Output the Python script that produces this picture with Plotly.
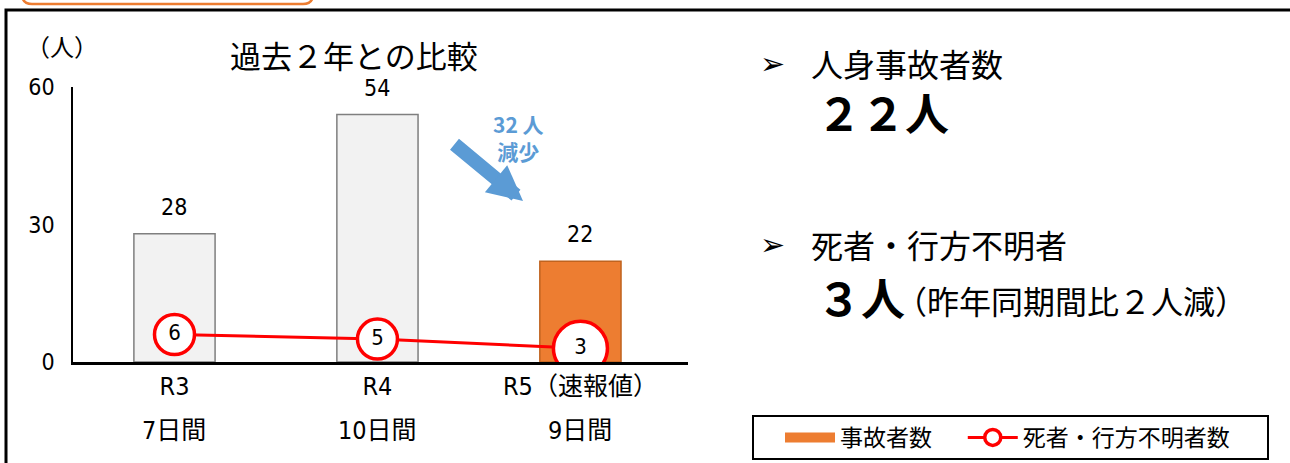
import plotly.graph_objects as go

# ---- data ----
categories = ["R3", "R4", "R5（速報値）"]
periods = ["7日間", "10日間", "9日間"]
injured = [28, 54, 22]
deaths = [6, 5, 3]
y_ticks = [0, 30, 60]

# ---- helpers / styles ----
W, H = 1290, 463


def px(x):
    return x / W


def py(y):
    return 1 - y / H


NUM_FONT = "Liberation Sans Narrow, Arial Narrow, DejaVu Sans Condensed, Noto Sans CJK JP, sans-serif"
JP_FONT = "Noto Sans CJK JP, sans-serif"

bar_fill = ["#f2f2f2", "#f2f2f2", "#ed7d31"]
bar_edge = ["#7f7f7f", "#7f7f7f", "#c0631f"]
marker_sizes = [40, 40, 54]

fig = go.Figure()
fig.add_trace(go.Bar(
    x=categories, y=injured, width=0.4,
    marker=dict(color=bar_fill, line=dict(color=bar_edge, width=1.5)),
    showlegend=False, hoverinfo="skip",
))
fig.add_trace(go.Scatter(
    x=[None], y=[None], mode="lines",
    line=dict(color="#ed7d31", width=10), name="事故者数" + "\u00a0" * 5,
))
fig.add_trace(go.Scatter(
    x=categories, y=deaths, mode="lines+markers+text",
    text=[str(v) for v in deaths], textposition="middle center",
    textfont=dict(family=NUM_FONT, size=22, color="black"),
    line=dict(color="#ff0000", width=3),
    marker=dict(size=marker_sizes, color="white", opacity=1,
                line=dict(color="#ff0000", width=3.5)),
    name="死者・行方不明者数",
))

annotations = []
# bar value labels
for c, v in zip(categories, injured):
    annotations.append(dict(x=c, y=v, xref="x", yref="y", text=str(v), showarrow=False,
                            xanchor="center", yanchor="middle", yshift=27,
                            font=dict(family=NUM_FONT, size=23, color="black")))
# second line of category labels
for c, p in zip(categories, periods):
    annotations.append(dict(x=c, y=py(430), xref="x", yref="paper", text=p, showarrow=False,
                            xanchor="center", yanchor="middle",
                            font=dict(family=NUM_FONT, size=25, color="black")))


def txt(x, y, s, size, xanchor="center", family=JP_FONT, color="black"):
    return dict(x=px(x), y=py(y), xref="paper", yref="paper", text=s, showarrow=False,
                xanchor=xanchor, yanchor="middle", font=dict(family=family, size=size, color=color))


annotations += [
    txt(354, 54, "過去２年との比較", 31),
    txt(62, 45, "（人）", 24),
    txt(518, 137, "<b>32 人<br>減少</b>", 21, color="#5b9bd5"),
    dict(x=px(523), y=py(201), xref="paper", yref="paper", text="", showarrow=True,
         ax=-70, ay=-58, arrowcolor="#5b9bd5", arrowwidth=14, arrowhead=2, arrowsize=0.5, standoff=0),
    # right side text
    txt(772, 63, "➢", 30, family="DejaVu Sans"),
    txt(809, 63, "人身事故者数", 32, xanchor="left"),
    txt(815, 112, "<b>２２人</b>", 44, xanchor="left"),
    txt(772, 244, "➢", 30, family="DejaVu Sans"),
    txt(809, 244, "死者・行方不明者", 32, xanchor="left"),
    txt(815, 297, "<b>３人</b>", 44, xanchor="left"),
    txt(893, 300, "（昨年同期間比２人減）", 32, xanchor="left"),
]


def ppath(pts):
    s = ""
    for cmd, coords in pts:
        s += cmd + " ".join(f"{px(coords[i]):.5f},{py(coords[i+1]):.5f}" for i in range(0, len(coords), 2)) + " "
    return s.strip()


orange_tab = ppath([("M", (22, -30)), ("L", (22, -6)), ("Q", (22, 4, 32, 4)), ("L", (303, 4)),
                    ("Q", (313, 4, 313, -6)), ("L", (313, -30))])

shapes = [
    dict(type="rect", xref="paper", yref="paper", x0=px(6), y0=py(10), x1=px(1300), y1=py(480),
         line=dict(color="black", width=3)),
    dict(type="path", xref="paper", yref="paper", path=orange_tab, line=dict(color="#ed7d31", width=2.5)),
    dict(type="rect", xref="paper", yref="paper", x0=px(753), y0=py(416), x1=px(1268), y1=py(459),
         line=dict(color="black", width=2)),
]

fig.update_layout(
    width=W, height=H, autosize=False,
    margin=dict(l=0, r=0, t=0, b=0, pad=0),
    paper_bgcolor="white", plot_bgcolor="white",
    xaxis=dict(domain=[px(73), px(688)], range=[-0.5, 2.53], showline=True, linecolor="black",
               linewidth=2.5, ticks="", showgrid=False, zeroline=False, automargin=False,
               tickfont=dict(family=NUM_FONT, size=25, color="black")),
    yaxis=dict(domain=[py(362), py(87)], range=[0, 60], tickvals=y_ticks, showline=True,
               linecolor="black", linewidth=1.5, ticks="", showgrid=False, zeroline=False,
               automargin=False, ticklabelstandoff=12,
               tickfont=dict(family=NUM_FONT, size=23, color="black")),
    legend=dict(orientation="h", x=px(780), y=py(437.5), xanchor="left", yanchor="middle",
                bgcolor="rgba(0,0,0,0)", borderwidth=0, itemwidth=50,
                font=dict(family=JP_FONT, size=23, color="black")),
    annotations=annotations,
    shapes=shapes,
    showlegend=True,
)

fig.write_html("out.html", config={"displayModeBar": False},
               post_script="document.body.style.margin='0px';")
